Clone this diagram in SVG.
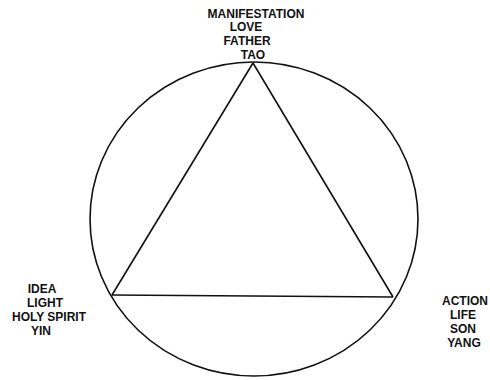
<svg xmlns="http://www.w3.org/2000/svg" width="490" height="380" viewBox="0 0 490 380">
<style>
.shape{fill:none;stroke:#111;stroke-width:1.6;stroke-linejoin:miter}
.lbl{font-family:"Liberation Sans",Arial,sans-serif;font-weight:bold;font-size:12px;fill:#111;text-anchor:middle}
</style>
<rect width="490" height="380" fill="#fff"/>
<g id="circle"><ellipse class="shape" cx="254" cy="219" rx="164" ry="157"/></g>
<g id="connectors">
<line class="shape" x1="253" y1="63" x2="112" y2="295"/>
<line class="shape" x1="253" y1="63" x2="393" y2="297"/>
<line class="shape" x1="112" y1="295" x2="393" y2="297"/>
</g>
<g id="top">
<text class="lbl" x="256" y="18">MANIFESTATION</text>
<text class="lbl" x="246" y="31">LOVE</text>
<text class="lbl" x="247" y="45">FATHER</text>
<text class="lbl" x="253" y="59">TAO</text>
</g>
<g id="left">
<text class="lbl" x="42" y="293">IDEA</text>
<text class="lbl" x="45" y="307">LIGHT</text>
<text class="lbl" x="49" y="321">HOLY SPIRIT</text>
<text class="lbl" x="41" y="335">YIN</text>
</g>
<g id="right">
<text class="lbl" x="465" y="305">ACTION</text>
<text class="lbl" x="463" y="319">LIFE</text>
<text class="lbl" x="463" y="333">SON</text>
<text class="lbl" x="464" y="347">YANG</text>
</g>
</svg>
